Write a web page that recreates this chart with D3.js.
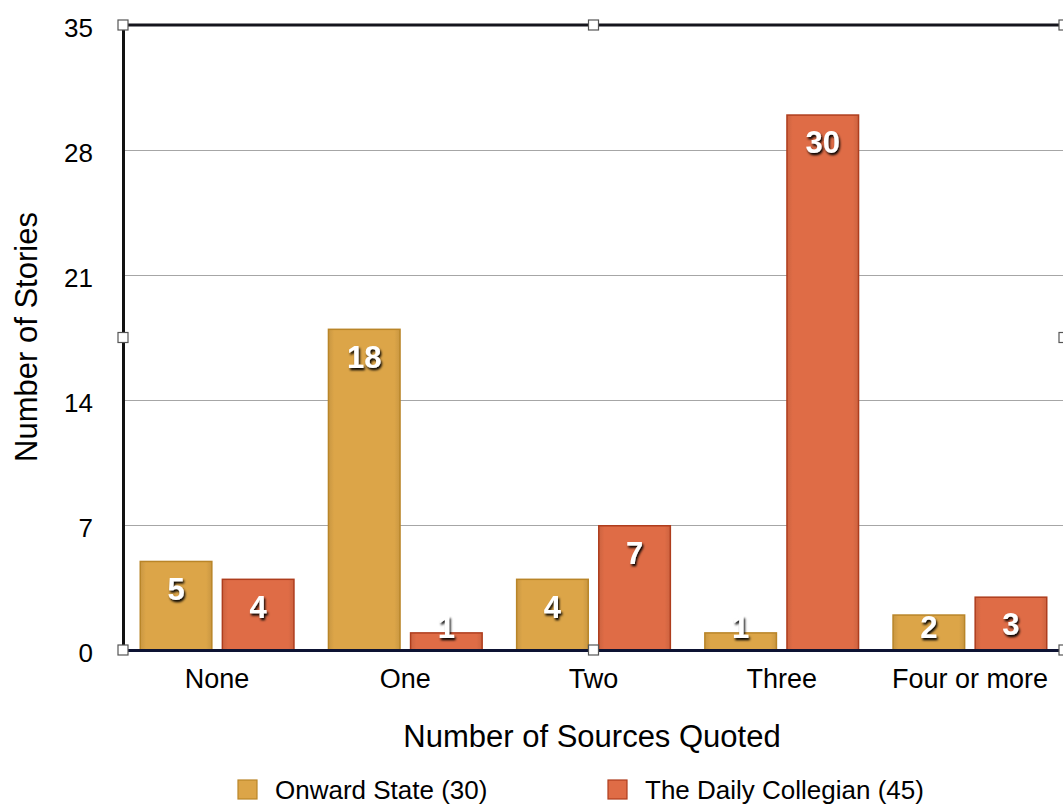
<!DOCTYPE html>
<html>
<head>
<meta charset="utf-8">
<script src="https://cdn.jsdelivr.net/npm/d3@7"></script>
<style>
  html, body { margin: 0; padding: 0; background: #fff; }
  svg { display: block; font-family: "Liberation Sans", Arial, Helvetica, sans-serif; }
</style>
</head>
<body>
<svg id="chart" width="1063" height="808"></svg>
<script>
// Stories by number of sources quoted
const categories = ["None", "One", "Two", "Three", "Four or more"];
const seriesNames = ["Onward State (30)", "The Daily Collegian (45)"];
const onwardState = [5, 18, 4, 1, 2];
const dailyCollegian = [4, 1, 7, 30, 3];
const yTicks = [0, 7, 14, 21, 28, 35];

const fills = ["#dca548", "#df6c46"];
const edges = ["#b98528", "#ae3d1d"];

const svg = d3.select("#chart");
const plotL = 123, plotR = 1064, plotT = 25, plotB = 650;

const x0 = d3.scaleBand().domain(categories).range([plotL, plotR]).padding(0);
const x1 = d3.scaleBand().domain(seriesNames)
  .range([16.5, x0.bandwidth() - 16.5]).paddingInner(0.11).paddingOuter(0);
const y = d3.scaleLinear().domain([0, 35]).range([plotB, plotT]);

// drop shadow for value labels
const defs = svg.append("defs");
const f = defs.append("filter").attr("id", "lblShadow")
  .attr("x", "-30%").attr("y", "-30%").attr("width", "160%").attr("height", "160%");
f.append("feDropShadow").attr("dx", 1.3).attr("dy", 2.2).attr("stdDeviation", 1.3)
  .attr("flood-color", "#000").attr("flood-opacity", 1);

// gradients giving the bars a slight bevel
fills.forEach((c, i) => {
  const g = defs.append("linearGradient").attr("id", "barGrad" + i)
    .attr("x1", 0).attr("x2", 1).attr("y1", 0).attr("y2", 0);
  const base = d3.color(c);
  g.append("stop").attr("offset", "0%").attr("stop-color", base.darker(0.25));
  g.append("stop").attr("offset", "8%").attr("stop-color", base);
  g.append("stop").attr("offset", "92%").attr("stop-color", base);
  g.append("stop").attr("offset", "100%").attr("stop-color", base.darker(0.25));
});

// horizontal gridlines
svg.append("g").selectAll("line").data(yTicks.filter(t => t > 0 && t < 35)).join("line")
  .attr("x1", plotL).attr("x2", plotR)
  .attr("y1", d => y(d) + 0.5).attr("y2", d => y(d) + 0.5)
  .attr("stroke", "#a6a6a6").attr("stroke-width", 1);

// top frame line
svg.append("line").attr("x1", plotL).attr("x2", plotR - 4)
  .attr("y1", plotT).attr("y2", plotT)
  .attr("stroke", "#15151c").attr("stroke-width", 3);

// bars
const data = categories.map((c, i) => ({ cat: c, vals: [onwardState[i], dailyCollegian[i]] }));
const groups = svg.append("g").selectAll("g").data(data).join("g")
  .attr("transform", d => `translate(${x0(d.cat)},0)`);

groups.selectAll("rect").data(d => d.vals.map((v, k) => ({ v, k }))).join("rect")
  .attr("x", d => x1(seriesNames[d.k]) + 0.75)
  .attr("width", x1.bandwidth() - 1.5)
  .attr("y", d => y(d.v) + 0.75)
  .attr("height", d => y(0) - y(d.v) - 0.75)
  .attr("fill", d => `url(#barGrad${d.k})`)
  .attr("stroke", d => edges[d.k]).attr("stroke-width", 1.5);

// value labels
groups.selectAll("text").data(d => d.vals.map((v, k) => ({ v, k }))).join("text")
  .attr("x", d => x1(seriesNames[d.k]) + x1.bandwidth() / 2)
  .attr("y", d => Math.min(y(d.v) + 39, plotB - 12))
  .attr("text-anchor", "middle")
  .attr("font-size", 31).attr("font-weight", "bold")
  .attr("fill", "#fff").attr("filter", "url(#lblShadow)")
  .text(d => d.v);

// left axis
const yAxis = svg.append("g").attr("transform", `translate(${plotL},0)`)
  .call(d3.axisLeft(y).tickValues(yTicks).tickSize(0).tickPadding(30));
yAxis.select(".domain").attr("stroke", "#111").attr("stroke-width", 3);
yAxis.selectAll("text").attr("font-size", 26).attr("fill", "#000").attr("dy", "0.45em")
  .attr("font-family", "Liberation Sans, Arial, sans-serif");

// bottom axis
const xAxis = svg.append("g").attr("transform", `translate(0,${plotB})`)
  .call(d3.axisBottom(x0).tickSize(0).tickPadding(19));
xAxis.select(".domain").attr("stroke", "#0d1333").attr("stroke-width", 3);
xAxis.selectAll("text").attr("font-size", 27).attr("fill", "#000")
  .attr("font-family", "Liberation Sans, Arial, sans-serif");

// axis titles
svg.append("text").attr("transform", "translate(37,337) rotate(-90)")
  .attr("text-anchor", "middle").attr("font-size", 31).text("Number of Stories");
svg.append("text").attr("x", 592).attr("y", 747)
  .attr("text-anchor", "middle").attr("font-size", 31).text("Number of Sources Quoted");

// selection handles around the plot frame
const midX = (plotL + plotR) / 2, midY = (plotT + plotB) / 2;
const handles = [[plotL, plotT], [midX, plotT], [plotR, plotT], [plotL, midY], [plotR, midY],
                 [plotL, plotB], [midX, plotB], [plotR, plotB]];
svg.append("g").selectAll("rect").data(handles).join("rect")
  .attr("x", d => d[0] - 5).attr("y", d => d[1] - 5)
  .attr("width", 10).attr("height", 10)
  .attr("fill", "#fff").attr("stroke", "#555").attr("stroke-width", 1.2);

// legend
const legendX = [238, 608];
const lg = svg.append("g").selectAll("g").data(seriesNames).join("g")
  .attr("transform", (d, i) => `translate(${legendX[i]},780)`);
lg.append("rect").attr("width", 19).attr("height", 19)
  .attr("fill", (d, i) => fills[i]).attr("stroke", (d, i) => edges[i]).attr("stroke-width", 1.2);
lg.append("text").attr("x", 37).attr("y", 19).attr("font-size", 26).text(d => d);
</script>
</body>
</html>
